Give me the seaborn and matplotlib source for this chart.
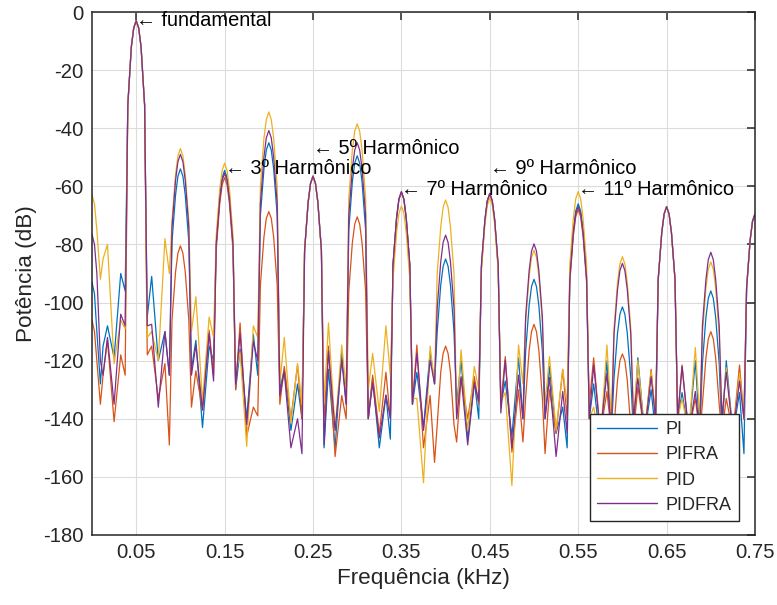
import matplotlib
matplotlib.use("Agg")
import matplotlib.pyplot as plt
import seaborn as sns
import pandas as pd

# harmonic centres (kHz) and the sample points read around each lobe
harm_khz = [0.00, 0.05, 0.10, 0.15, 0.20, 0.25, 0.30, 0.35,
            0.40, 0.45, 0.50, 0.55, 0.60, 0.65, 0.70, 0.75]
# offsets (kHz) of: low, mid, top, peak, top, mid, low, null_a, side1, null_m, side2, null_b
offsets = [-0.0095, -0.0055, -0.0028, 0.0, 0.0028, 0.0055, 0.0095,
           0.0125, 0.0175, 0.025, 0.0325, 0.0375]

# rows per harmonic: (peak, top, mid, low, null_a, side1, null_m, side2, null_b) in dB
pi_rows = [
    (-93, -97, -110, -128, -115, -108, -119, -90, -96),
    (-3, -5.5, -12, -32, -105, -91, -120, -110, -125),
    (-54, -56.5, -63, -79, -123, -113, -143, -115, -120),
    (-54.5, -57, -63.5, -80, -130, -116, -140, -111, -125),
    (-45, -47.5, -54, -70, -130, -123, -144, -128, -140),
    (-56.5, -59, -65.5, -82, -150, -123, -150, -117, -135),
    (-49.5, -52, -58.5, -75, -140, -126, -150, -132, -147),
    (-62, -64.5, -71, -87, -135, -124, -143, -117, -128),
    (-85, -87.5, -94, -110, -135, -120, -147, -127, -140),
    (-62.5, -65, -71.5, -88, -135, -127, -146, -119, -140),
    (-92, -94.5, -101, -117, -140, -122, -145, -136, -150),
    (-66, -68.5, -75, -91, -140, -128, -148, -120, -145),
    (-101.5, -104, -110.5, -126, -145, -119, -145, -130, -145),
    (-67, -69.5, -76, -92, -140, -131, -145, -120, -145),
    (-96, -98.5, -105, -121, -145, -120, -145, -131, -152),
    (-69.5, -72, -78.5, -95, -140, -120, -145, -120, -145),
]
pifra_rows = [
    (-106, -110, -120, -135, -125, -113, -141, -118, -125),
    (-3, -5.5, -12, -32, -118, -115, -133, -121, -149),
    (-80.5, -83, -89.5, -106, -136, -123.5, -137, -109.5, -125),
    (-57, -59.5, -66, -82, -130, -107, -146, -136, -139),
    (-68.7, -71, -77.5, -94, -135, -122, -140, -121.5, -140),
    (-56.5, -59, -65.5, -82, -140, -115, -153, -132, -140),
    (-70.5, -73, -79.5, -96, -140, -125, -145, -124, -140),
    (-62, -64.5, -71, -87, -135, -114.6, -150, -132, -155),
    (-115, -117.5, -124, -142, -148, -126, -140, -125.5, -135),
    (-62.5, -65, -71.5, -88, -135, -118.6, -151.5, -130, -148),
    (-107.5, -110, -116.5, -133, -152, -130, -145, -123, -140),
    (-68, -70.5, -77, -93, -135, -119, -145, -130.6, -145),
    (-117.7, -120, -126.7, -143, -145, -129, -145, -123, -140),
    (-67, -69.5, -76, -92, -140, -121.5, -145, -133, -145),
    (-110, -112.5, -119, -135, -145, -133, -145, -121.5, -140),
    (-69.5, -72, -78.5, -95, -140, -120, -145, -120, -145),
]
pid_rows = [
    (-63, -66, -75, -92, -85, -80, -121, -106, -109),
    (-3, -5.5, -12, -32, -112, -110, -120, -78, -90),
    (-47, -49.5, -56, -72, -110, -98, -134, -105, -112),
    (-52, -54.5, -61, -77, -125, -117, -149.5, -108, -112),
    (-34.4, -37, -43.5, -60, -128, -112, -141.5, -121, -135),
    (-56.5, -59, -65.5, -82, -135, -107, -144, -114.6, -130),
    (-38.5, -41, -47.5, -64, -130, -117.5, -137.5, -108, -125),
    (-66.8, -69.3, -76, -92, -133, -133, -162, -115, -128),
    (-64.7, -67.2, -74, -90, -140, -116.3, -144, -122, -130),
    (-64, -66.5, -73, -89, -134, -131, -163, -114.6, -128),
    (-82, -84.5, -91, -107, -135, -118.6, -144, -123, -135),
    (-61.8, -64.3, -71, -87, -140, -136, -148, -114.6, -140),
    (-84.2, -86.7, -93, -109, -140, -120, -145, -123.8, -140),
    (-67, -69.5, -76, -92, -140, -133, -145, -115.5, -140),
    (-86, -88.5, -95, -111, -140, -122.4, -145, -124.3, -140),
    (-69.5, -72, -78.5, -95, -140, -120, -145, -120, -145),
]
pidfra_rows = [
    (-76.5, -80, -90, -120, -125, -112, -135, -104, -108),
    (-3, -5.5, -12, -32, -108, -107.5, -136, -110, -125),
    (-49, -51.5, -58, -74, -125, -114.6, -137, -110.6, -127),
    (-55.5, -58, -64.5, -80, -128, -110.6, -142, -113.5, -120),
    (-40.8, -43.3, -50, -66, -132, -123.8, -150, -140, -152),
    (-56.5, -59, -65.5, -82, -149, -116.7, -144, -119.8, -135),
    (-45, -47.5, -54, -70, -140, -127.8, -146.6, -131.8, -140),
    (-61.8, -64.3, -71, -87, -135, -117.5, -144, -119.8, -128),
    (-76.8, -79.3, -86, -102, -140, -125.5, -149, -127.8, -134),
    (-62.4, -65, -71.5, -87, -138, -119.8, -150, -125, -140),
    (-79.8, -82.3, -89, -105, -140, -125.8, -153, -130.6, -145),
    (-67, -69.5, -76, -92, -140, -121.5, -145, -124.3, -145),
    (-86.5, -89, -95.5, -111, -140, -126, -145, -125.5, -140),
    (-67, -69.5, -76, -92, -140, -122, -145, -130.6, -145),
    (-82.7, -85.2, -92, -108, -140, -124, -145, -127, -140),
    (-69.5, -72, -78.5, -95, -140, -120, -145, -120, -145),
]

series_names = ["PI", "PIFRA", "PID", "PIDFRA"]
series_rows = [pi_rows, pifra_rows, pid_rows, pidfra_rows]
colors = ["#0072BD", "#D95319", "#EDB120", "#7E2F8E"]

# annotations: (text, x, y)
notes = [
    ("\u2190 fundamental", 0.05, -3),
    ("\u2190 3º Harmônico", 0.15, -54),
    ("\u2190 5º Harmônico", 0.25, -47),
    ("\u2190 7º Harmônico", 0.35, -61),
    ("\u2190 9º Harmônico", 0.45, -54),
    ("\u2190 11º Harmônico", 0.55, -61),
]

xticks = [0.05, 0.15, 0.25, 0.35, 0.45, 0.55, 0.65, 0.75]
yticks = [0, -20, -40, -60, -80, -100, -120, -140, -160, -180]

# build long table
recs = []
for name, rows in zip(series_names, series_rows):
    for c, r in zip(harm_khz, rows):
        peak, top, mid, low, na, s1, nm, s2, nb = r
        vals = [low, mid, top, peak, top, mid, low, na, s1, nm, s2, nb]
        for o, v in zip(offsets, vals):
            recs.append({"f": round(c + o, 5), "dB": v, "Controle": name})
df = pd.DataFrame(recs)

sns.set_style("white")
plt.rcParams["font.family"] = ["Liberation Sans", "DejaVu Sans"]
plt.rcParams["axes.unicode_minus"] = False

fig = plt.figure(figsize=(7.77, 6.05), dpi=100)
ax = fig.add_axes([92 / 777, 1 - 535 / 605, 663 / 777, 523 / 605])

sns.lineplot(data=df, x="f", y="dB", hue="Controle", palette=dict(zip(series_names, colors)),
             sort=False, estimator=None, linewidth=0.9, ax=ax, legend=False)

ax.set_xlim(0, 0.75)
ax.set_ylim(-180, 0)
ax.set_xticks(xticks)
ax.set_xticklabels(["{:.2f}".format(t) for t in xticks])
ax.set_yticks(yticks)
ax.set_yticklabels([str(t) for t in yticks])
ax.grid(True, color="#dcdcdc", linewidth=0.8)
ax.set_axisbelow(True)
for s in ax.spines.values():
    s.set_color("#262626")
    s.set_linewidth(1.1)
ax.tick_params(direction="in", top=True, right=True, length=6, width=1.1,
               colors="#262626", labelsize=14.6, pad=6)
for lab in ax.get_xticklabels() + ax.get_yticklabels():
    lab.set_color("#262626")

ax.set_xlabel("Frequência (kHz)", fontsize=16.2, color="#262626", labelpad=4)
ax.set_ylabel("Potência (dB)", fontsize=16.2, color="#262626", labelpad=4)

for txt, x, y in notes:
    ax.text(x, y, txt, fontsize=14.4, ha="left", va="center", color="black")

handles = [plt.Line2D([], [], color=c, linewidth=1.0) for c in colors]
leg = ax.legend(handles, series_names, loc="lower right", fontsize=13,
                frameon=True, fancybox=False, framealpha=1, edgecolor="#262626",
                handlelength=3.3, handletextpad=0.5, labelspacing=0.45, borderpad=0.4,
                borderaxespad=0, bbox_to_anchor=(0.976, 0.027))
leg.get_frame().set_linewidth(1.0)

fig.savefig("out.png", dpi=100)
